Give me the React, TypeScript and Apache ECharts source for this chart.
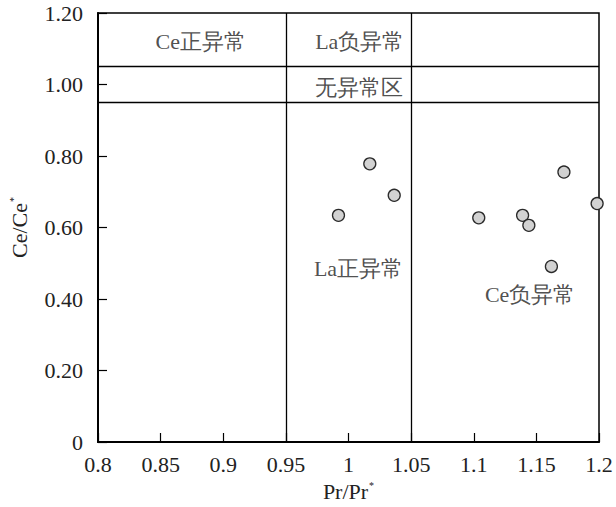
import React, { useEffect, useRef } from "react";
import * as echarts from "echarts";

const prRatio = [0.992, 1.017, 1.0365, 1.104, 1.139, 1.144, 1.172, 1.1985, 1.162];
const ceRatio = [0.634, 0.778, 0.69, 0.627, 0.634, 0.606, 0.755, 0.667, 0.491];

const boundaryX = [0.95, 1.05];
const boundaryY = [0.95, 1.05];

const zoneNames = ["Ce正异常", "La负异常", "无异常区", "La正异常", "Ce负异常"];
const zoneX = [0.882, 1.009, 1.008, 1.008, 1.145];
const zoneY = [1.12, 1.12, 0.992, 0.486, 0.412];

const FONT = "Liberation Serif";

export default function App() {
  const ref = useRef<HTMLDivElement>(null);
  useEffect(() => {
    if (!ref.current) return;
    const chart = echarts.init(ref.current, null, { renderer: "svg" });
    const points = prRatio.map((x, i) => [x, ceRatio[i]]);
    const zones = zoneNames.map((n, i) => ({ name: n, value: [zoneX[i], zoneY[i]] }));
    chart.setOption({
      animation: false,
      backgroundColor: "#ffffff",
      textStyle: { fontFamily: FONT },
      grid: {
        left: 96,
        right: 17,
        top: 13,
        bottom: 62,
        show: true,
        borderColor: "#000",
        borderWidth: 1.5,
      },
      xAxis: {
        type: "value",
        min: 0.8,
        max: 1.2,
        interval: 0.05,
        name: "Pr/Pr{sup|*}",
        nameLocation: "middle",
        nameGap: 38,
        nameTextStyle: {
          fontFamily: FONT,
          fontSize: 22,
          color: "#222",
          rich: {
            sup: { fontSize: 10, padding: [0, 0, 12, 1], fontFamily: FONT, color: "#222" },
          },
        },
        axisLine: { lineStyle: { color: "#000", width: 2 } },
        axisTick: { inside: true, length: 9, lineStyle: { color: "#000", width: 1.2 } },
        axisLabel: {
          fontFamily: FONT,
          fontSize: 22,
          color: "#222",
          margin: 11,
          formatter: (v: number) => String(+v.toFixed(2)),
        },
        splitLine: { show: false },
      },
      yAxis: {
        type: "value",
        min: 0,
        max: 1.2,
        interval: 0.2,
        name: "Ce/Ce{sup|*}",
        nameLocation: "middle",
        nameGap: 68,
        nameRotate: 90,
        nameTextStyle: {
          fontFamily: FONT,
          fontSize: 22,
          color: "#222",
          rich: {
            sup: { fontSize: 10, padding: [0, 0, 12, 1], fontFamily: FONT, color: "#222" },
          },
        },
        axisLine: { lineStyle: { color: "#000", width: 2 } },
        axisTick: { inside: true, length: 9, lineStyle: { color: "#000", width: 1.2 } },
        axisLabel: {
          fontFamily: FONT,
          fontSize: 22,
          color: "#222",
          margin: 15,
          formatter: (v: number) => (v === 0 ? "0" : v.toFixed(2)),
        },
        splitLine: { show: false },
      },
      series: [
        {
          type: "scatter",
          data: points,
          symbol: "circle",
          symbolSize: 12,
          itemStyle: { color: "#d2d2d2", borderColor: "#2a2a2a", borderWidth: 1.3, opacity: 1 },
          silent: true,
          z: 5,
          markLine: {
            silent: true,
            symbol: "none",
            label: { show: false },
            lineStyle: { color: "#000", width: 1.3, type: "solid" },
            data: [
              ...boundaryX.map((x) => ({ xAxis: x })),
              ...boundaryY.map((y) => ({ yAxis: y })),
            ],
          },
        },
        {
          type: "scatter",
          data: zones,
          symbolSize: 1,
          itemStyle: { color: "rgba(0,0,0,0)" },
          silent: true,
          label: {
            show: true,
            position: "inside",
            formatter: (p: any) => p.name,
            fontFamily: FONT,
            fontSize: 22,
            color: "#222",
          },
        },
      ],
    });
    return () => chart.dispose();
  }, []);
  return (
    <div
      ref={ref}
      style={{ position: "fixed", left: 0, top: 0, width: 616, height: 507 }}
    />
  );
}
